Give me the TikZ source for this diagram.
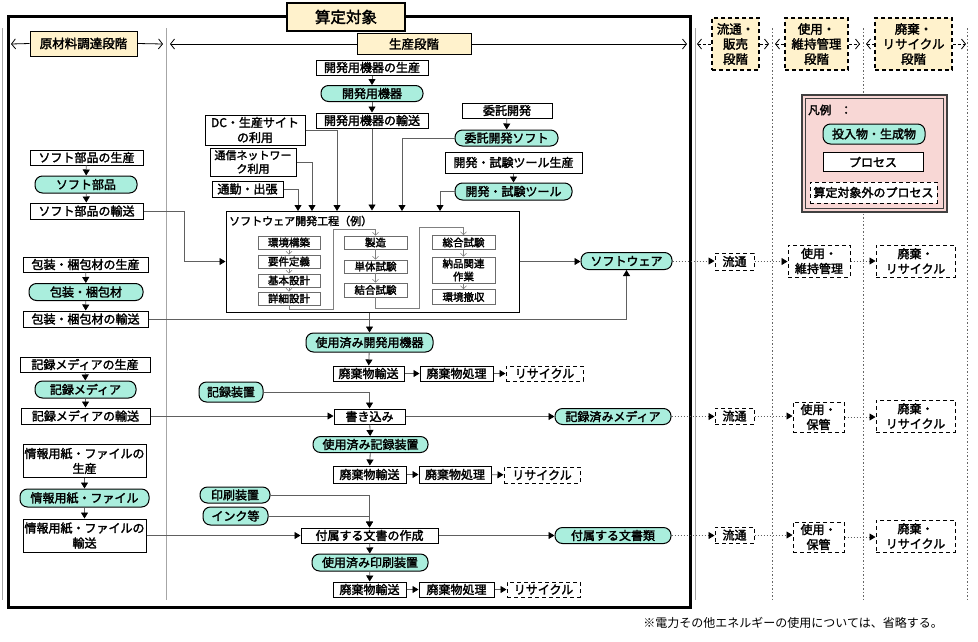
\documentclass[tikz,border=0pt]{standalone}
\usepackage{fontspec}
\setmainfont{Noto Sans CJK JP}[AutoFakeBold=2.2]
\usetikzlibrary{arrows.meta}
\definecolor{teal1}{HTML}{AAEEDD}
\definecolor{hdryel}{HTML}{FFF2CC}
\definecolor{lgpink}{HTML}{F8D7D5}
\definecolor{linegray}{HTML}{606060}
\begin{document}
\begin{tikzpicture}[x=1pt,y=-1pt,
  proc/.style={draw=black,line width=1pt,fill=white,inner sep=0pt,align=center,font=\fontsize{12}{15}\selectfont\bfseries},
  term/.style={proc,fill=teal1,rounded corners=7.5pt},
  dproc/.style={proc,dash pattern=on 4pt off 3pt},
  hdr/.style={proc,fill=hdryel,font=\fontsize{12.5}{15}\selectfont\bfseries},
  dhdr/.style={hdr,dash pattern=on 4pt off 3pt,line width=1.1pt},
  subbox/.style={draw=gray!85!black,line width=0.7pt,fill=white,inner sep=0pt,align=center,font=\fontsize{10.5}{13}\selectfont\bfseries},
  sz/.style 2 args={minimum width=#1,minimum height=#2},
  conn/.style={draw=linegray,line width=0.8pt,-{Triangle[length=6pt,width=7pt,color=black]}},
  dconn/.style={conn,dash pattern=on 1.5pt off 1.5pt},
  sarr/.style={draw=gray,line width=0.6pt,-{Straight Barb[length=3pt,width=6pt]}},
  hl/.style={line width=0.8pt,{Straight Barb[length=4pt,width=10pt]}-},
  hr/.style={line width=0.8pt,-{Straight Barb[length=4pt,width=10pt]}},
  stage/.style={draw=gray!70,line width=0.8pt},
  dstage/.style={draw=gray!80!black,line width=0.7pt,dash pattern=on 1.5pt off 2pt}
]
\useasboundingbox (0,0) rectangle (978,641);
\fill[white] (0,0) rectangle (978,641);

% stage divider lines
\draw[stage] (2,28) -- (2,600);
\draw[stage] (166,28) -- (166,600);
\draw[stage] (695,28) -- (695,600);
\draw[dstage] (772,28) -- (772,600);
\draw[dstage] (863,28) -- (863,600);
\draw[dstage] (967,28) -- (967,600);

% scope box
\draw[line width=3pt] (8,16) rectangle (690,607);
\node[hdr,line width=2.5pt,sz={118}{28},font=\fontsize{15.5}{18}\selectfont\bfseries] (scope) at (346,17) {算定対象};

% stage headers
\node[hdr,sz={107}{25}] (hraw) at (83.5,43.5) {原材料調達段階};
\node[hdr,sz={114}{21}] (hprod) at (414,44) {生産段階};
\node[dhdr,sz={47}{52}] (hdist) at (735.5,44) {流通・\\販売\\段階};
\node[dhdr,sz={63}{52}] (huse) at (816.5,44) {使用・\\維持管理\\段階};
\node[dhdr,sz={77}{52}] (hdisp) at (913.5,44) {廃棄・\\リサイクル\\段階};
\coordinate (hrawL) at (11,44); \coordinate (hrawR) at (163,44);
\coordinate (hprodL) at (170,44); \coordinate (hprodR) at (687,44);
\coordinate (hdistL) at (697,44); \coordinate (hdistR) at (769,44);
\coordinate (huseL) at (775,44); \coordinate (huseR) at (860,44);
\coordinate (hdispL) at (866,44); \coordinate (hdispR) at (966,44);
\draw[hl] (hrawL) -- (hraw.west);  \draw[hr] (hraw.east) -- (hrawR);
\draw[hl] (hprodL) -- (hprod.west); \draw[hr] (hprod.east) -- (hprodR);
\draw[hl,dash pattern=on 3pt off 2pt] (hdistL) -- (hdist.west); \draw[hr,dash pattern=on 3pt off 2pt] (hdist.east) -- (hdistR);
\draw[hl,dash pattern=on 3pt off 2pt] (huseL) -- (huse.west); \draw[hr,dash pattern=on 3pt off 2pt] (huse.east) -- (huseR);
\draw[hl,dash pattern=on 3pt off 2pt] (hdispL) -- (hdisp.west); \draw[hr,dash pattern=on 3pt off 2pt] (hdisp.east) -- (hdispR);

% legend
\fill[lgpink] (802,95) rectangle (947,212);
\draw[black!75,line width=1.2pt] (802,95) rectangle (947,212);
\draw[black!75,line width=0.6pt] (805.5,98.5) rectangle (943.5,208.5);
\node[anchor=west,inner sep=0pt,font=\fontsize{11.5}{14}\selectfont\bfseries] (lgt) at (808,110) {凡例\hspace{0.8em}：};
\node[term,sz={102}{20}] (lg1) at (874,134) {投入物・生成物};
\node[proc,sz={100}{19}] (lg2) at (873,162) {プロセス};
\node[dproc,sz={127}{21}] (lg3) at (873.5,192.5) {算定対象外のプロセス};

% raw material column
\node[proc,sz={113}{15}] (a1) at (86.5,157.5) {ソフト部品の生産};
\node[term,sz={102}{17}] (a2) at (86,184.5) {ソフト部品};
\node[proc,sz={113}{16}] (a3) at (86.5,211) {ソフト部品の輸送};
\node[proc,sz={125}{15}] (b1) at (85.5,264.5) {包装・梱包材の生産};
\node[term,sz={114}{17}] (b2) at (86,292) {包装・梱包材};
\node[proc,sz={125}{16}] (b3) at (85.5,319) {包装・梱包材の輸送};
\node[proc,sz={130}{15}] (c1) at (85,364.5) {記録メディアの生産};
\node[term,sz={101}{17}] (c2) at (85.5,389.5) {記録メディア};
\node[proc,sz={129}{16}] (c3) at (85.5,416) {記録メディアの輸送};
\node[proc,sz={123}{33}] (d1) at (84.5,461) {情報用紙・ファイルの\\生産};
\node[term,sz={129}{18}] (d2) at (84.5,498) {情報用紙・ファイル};
\node[proc,sz={123}{33}] (d3) at (84.5,535.5) {情報用紙・ファイルの\\輸送};
\foreach \u/\v in {a1/a2,a2/a3,b1/b2,b2/b3,c1/c2,c2/c3,d1/d2,d2/d3}
  \draw[conn] (\u) -- (\v);

% production inputs
\node[proc,sz={112}{15}] (p1) at (372,67.5) {開発用機器の生産};
\node[term,sz={102}{16}] (p2) at (372,93.5) {開発用機器};
\node[proc,sz={112}{15}] (p3) at (372,120.5) {開発用機器の輸送};
\node[proc,sz={90}{15}] (e1) at (507,110.5) {委託開発};
\node[term,sz={103}{16}] (e2) at (506.5,138) {委託開発ソフト};
\node[proc,sz={137}{21}] (t1) at (513.5,162.5) {開発・試験ツール生産};
\node[term,sz={117}{17}] (t2) at (513.5,191.5) {開発・試験ツール};
\node[proc,sz={100}{30}] (u1) at (255,130) {DC・生産サイト\\の利用};
\node[proc,sz={86}{28},font=\fontsize{11}{13.5}\selectfont\bfseries] (u2) at (253,162) {通信ネットワー\\ク利用};
\node[proc,sz={71}{16}] (u3) at (247.5,189) {通勤・出張};
\foreach \u/\v in {p1/p2,p2/p3,e1/e2,t1/t2}
  \draw[conn] (\u) -- (\v);

% software development process box
\node[draw=black,line width=1pt,fill=white,sz={293}{101},inner sep=0pt] (sw) at (372.5,261.5) {};
\node[anchor=west,inner sep=0pt,font=\fontsize{11}{13}\selectfont\bfseries] (swt) at (229,221) {ソフトウェア開発工程（例）};
\node[subbox,sz={62}{13}] (s11) at (289,242.5) {環境構築};
\node[subbox,sz={62}{13}] (s12) at (289,261.5) {要件定義};
\node[subbox,sz={62}{13}] (s13) at (289,280.5) {基本設計};
\node[subbox,sz={62}{13}] (s14) at (289,298.5) {詳細設計};
\node[subbox,sz={63}{13}] (s21) at (375.5,242.5) {製造};
\node[subbox,sz={63}{13}] (s22) at (375.5,266.5) {単体試験};
\node[subbox,sz={63}{14}] (s23) at (375.5,290) {結合試験};
\node[subbox,sz={63}{14}] (s31) at (463.5,242.5) {総合試験};
\node[subbox,sz={63}{26}] (s32) at (463.5,270) {納品関連\\作業};
\node[subbox,sz={63}{15}] (s33) at (463.5,297) {環境撤収};
\foreach \u/\v in {s11/s12,s12/s13,s13/s14,s21/s22,s22/s23,s31/s32,s32/s33}
  \draw[sarr] (\u) -- (\v);
\draw[sarr] (s14.south) -- (289,309) -- (333,309) -- (333,229) -- (375.5,229) -- (s21.north);
\draw[sarr] (s23.south) -- (375.5,308) -- (419,308) -- (419,227) -- (463.5,227) -- (s31.north);

% inputs to sw box
\draw[conn] (p3) -- (p3 |- sw.north);
\draw[conn] (u1.east) -| (337,211);
\draw[conn] (u2.east) -| (312,211);
\draw[conn] (u3.east) -| (298,211);
\draw[conn] (e2.west) -| (402,211);
\draw[conn] (t2.west) -| (440,211);
\draw[conn] (a3.east) -- (184,211) -- (184,261.5) -- (sw.west);

% software output
\node[term,sz={91}{17}] (soft) at (626.5,261) {ソフトウェア};
\draw[conn] (sw.east) -- (soft.west |- sw.east);
\draw[conn] (b3.east) -- (626.5,319) -- (soft.south);

% used dev equipment
\node[term,sz={127}{19}] (used1) at (369.5,342.5) {使用済み開発用機器};
\node[proc,sz={71}{15}] (w1) at (368.5,373.5) {廃棄物輸送};
\node[proc,sz={73}{15}] (w2) at (456.5,373.5) {廃棄物処理};
\node[dproc,sz={77}{15}] (w3) at (544.5,373.5) {リサイクル};
\draw[conn] (used1.north |- sw.south) -- (used1.north);
\draw[conn] (used1) -- (w1);
\draw[conn] (w1) -- (w2);
\draw[conn] (w2) -- (w3);

% recording
\node[term,sz={64}{20}] (rec) at (231,392) {記録装置};
\node[proc,sz={71}{15}] (wr) at (369.5,416.5) {書き込み};
\node[term,sz={116}{16}] (recm) at (613,416.5) {記録済みメディア};
\node[term,sz={115}{16}] (used2) at (370.5,444.5) {使用済み記録装置};
\node[proc,sz={73}{17}] (w4) at (369.5,474.5) {廃棄物輸送};
\node[proc,sz={72}{17}] (w5) at (455,474.5) {廃棄物処理};
\node[dproc,sz={76}{16}] (w6) at (542,475) {リサイクル};
\draw[conn] (rec.east) -| (wr.north);
\draw[conn] (c3.east) -- (wr.west |- c3.east);
\draw[conn] (wr.east) -- (recm.west);
\draw[conn] (wr) -- (used2);
\draw[conn] (used2) -- (w4);
\draw[conn] (w4) -- (w5);
\draw[conn] (w5) -- (w6);

% documents
\node[term,sz={70}{16}] (pr) at (235,495) {印刷装置};
\node[term,sz={65}{18}] (ink) at (235.5,516) {インク等};
\node[proc,sz={137}{15}] (doc) at (369.5,535.5) {付属する文書の作成};
\node[term,sz={116}{16}] (docs) at (613,535.5) {付属する文書類};
\node[term,sz={116}{17}] (used3) at (370,562.5) {使用済み印刷装置};
\node[proc,sz={73}{15}] (w7) at (369.5,589.5) {廃棄物輸送};
\node[proc,sz={75}{15}] (w8) at (456.5,589.5) {廃棄物処理};
\node[dproc,sz={73}{15}] (w9) at (543.5,589.5) {リサイクル};
\draw[conn] (pr.east) -| (doc.north);
\draw[conn] (ink.east) -| (doc.north);
\draw[conn] (d3.east) -- (doc.west |- d3.east);
\draw[conn] (doc.east) -- (docs.west);
\draw[conn] (doc) -- (used3);
\draw[conn] (used3) -- (w7);
\draw[conn] (w7) -- (w8);
\draw[conn] (w8) -- (w9);

% downstream (outside scope)
\node[dproc,sz={39}{17}] (r11) at (734.5,261.5) {流通};
\node[dproc,sz={62}{32}] (r12) at (819,261) {使用・\\維持管理};
\node[dproc,sz={79}{32}] (r13) at (915.5,261) {廃棄・\\リサイクル};
\node[dproc,sz={39}{16}] (r21) at (734.5,416) {流通};
\node[dproc,sz={51}{30}] (r22) at (818.5,417) {使用・\\保管};
\node[dproc,sz={79}{32}] (r23) at (915.5,416) {廃棄・\\リサイクル};
\node[dproc,sz={39}{16}] (r31) at (734.5,535) {流通};
\node[dproc,sz={51}{30}] (r32) at (818.5,537) {使用・\\保管};
\node[dproc,sz={79}{32}] (r33) at (915.5,536) {廃棄・\\リサイクル};
\draw[dconn] (soft.east) -- (r11.west |- soft.east);
\draw[dconn] (r11.east) -- (r12.west |- r11.east);
\draw[dconn] (r12.east) -- (r13.west |- r12.east);
\draw[dconn] (recm.east) -- (r21.west |- recm.east);
\draw[dconn] (r21.east) -- (r22.west |- r21.east);
\draw[dconn] (r22.east) -- (r23.west |- r22.east);
\draw[dconn] (docs.east) -- (r31.west |- docs.east);
\draw[dconn] (r31.east) -- (r32.west |- r31.east);
\draw[dconn] (r32.east) -- (r33.west |- r32.east);

% footnote
\node[anchor=east,inner sep=0pt,font=\fontsize{12}{14}\selectfont] (note) at (943,623) {※電力その他エネルギーの使用については、省略する。};
\end{tikzpicture}
\end{document}
